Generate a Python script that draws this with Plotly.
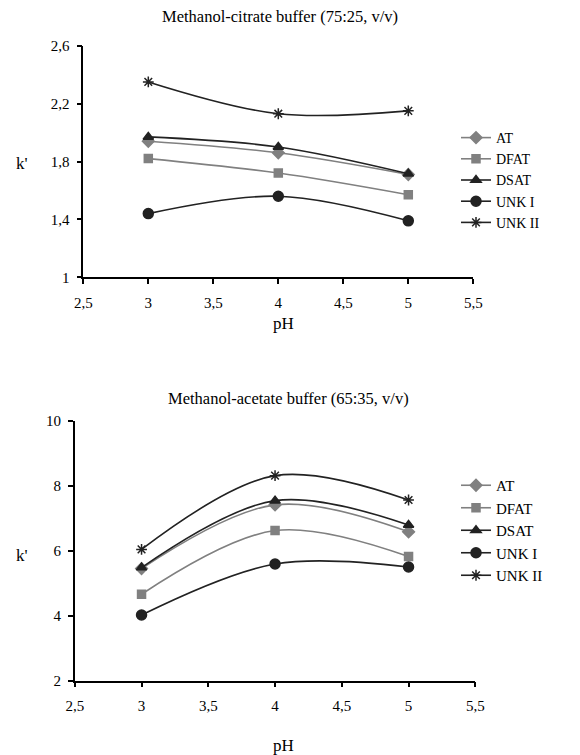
import plotly.graph_objects as go

ph = [3, 4, 5]
series_names = ["AT", "DFAT", "DSAT", "UNK I", "UNK II"]

# Methanol-citrate buffer (75:25, v/v)
citrate_at = [1.94, 1.86, 1.71]
citrate_dfat = [1.82, 1.72, 1.57]
citrate_dsat = [1.97, 1.90, 1.715]
citrate_unk1 = [1.44, 1.56, 1.39]
citrate_unk2 = [2.35, 2.13, 2.15]

# Methanol-acetate buffer (65:35, v/v)
acetate_at = [5.45, 7.41, 6.58]
acetate_dfat = [4.66, 6.62, 5.82]
acetate_dsat = [5.48, 7.54, 6.79]
acetate_unk1 = [4.02, 5.59, 5.50]
acetate_unk2 = [6.04, 8.31, 7.56]

title_top = "Methanol-citrate buffer (75:25, v/v)"
title_bottom = "Methanol-acetate buffer (65:35, v/v)"

GRAY = "#808080"
DARK = "#222222"
styles = [
    dict(color=GRAY, symbol="diamond", size=9),
    dict(color=GRAY, symbol="square", size=8),
    dict(color=DARK, symbol="triangle-up", size=9),
    dict(color=DARK, symbol="circle", size=10),
    dict(color=DARK, symbol="asterisk-open", size=9),
]

W, H = 580, 755
FONT = "Liberation Serif, Times New Roman, serif"

fig = go.Figure()

top_data = [citrate_at, citrate_dfat, citrate_dsat, citrate_unk1, citrate_unk2]
bot_data = [acetate_at, acetate_dfat, acetate_dsat, acetate_unk1, acetate_unk2]

for name, vals, st in zip(series_names, top_data, styles):
    fig.add_trace(go.Scatter(
        x=ph, y=vals, name=name, mode="lines+markers",
        line=dict(color=st["color"], width=1.6, shape="spline", smoothing=1),
        marker=dict(symbol=st["symbol"], size=st["size"], color=st["color"],
                    line=dict(color=st["color"], width=1.5)),
        xaxis="x", yaxis="y", legend="legend",
    ))
for name, vals, st in zip(series_names, bot_data, styles):
    fig.add_trace(go.Scatter(
        x=ph, y=vals, name=name, mode="lines+markers",
        line=dict(color=st["color"], width=1.6, shape="spline", smoothing=1),
        marker=dict(symbol=st["symbol"], size=st["size"], color=st["color"],
                    line=dict(color=st["color"], width=1.5)),
        xaxis="x2", yaxis="y2", legend="legend2",
    ))

def px_x(v):
    return v / W

def px_y(v):
    return 1 - v / H

axis_common = dict(
    showline=True, linecolor="black", linewidth=1.5,
    ticks="outside", ticklen=5, tickwidth=1.5, tickcolor="black",
    showgrid=False, zeroline=False, automargin=False,
    tickfont=dict(family=FONT, size=15, color="black"),
)

def ann(text, x, y, size=17):
    return dict(text=text, x=px_x(x), y=px_y(y), xref="paper", yref="paper",
                xanchor="center", yanchor="middle", showarrow=False,
                font=dict(family=FONT, size=size, color="black"))

fig.update_layout(
    template="none",
    width=W, height=H,
    margin=dict(l=0, r=0, t=0, b=0, autoexpand=False),
    paper_bgcolor="white", plot_bgcolor="white",
    separators=", ",
    font=dict(family=FONT, color="black"),
    xaxis=dict(domain=[px_x(83.3), px_x(473.3)], range=[2.5, 5.5], dtick=0.5, tick0=2.5,
               anchor="y", ticklabelstandoff=6, **axis_common),
    yaxis=dict(domain=[px_y(277.3), px_y(45.7)], range=[1, 2.6], dtick=0.4, tick0=1,
               anchor="x", ticklabelstandoff=4, **axis_common),
    xaxis2=dict(domain=[px_x(74.8), px_x(475.3)], range=[2.5, 5.5], dtick=0.5, tick0=2.5,
                anchor="y2", ticklabelstandoff=6, **axis_common),
    yaxis2=dict(domain=[px_y(680.7), px_y(420.7)], range=[2, 10], dtick=2, tick0=2,
                anchor="x2", ticklabelstandoff=4, **axis_common),
    legend=dict(x=px_x(456), y=px_y(122), xanchor="left", yanchor="top",
                font=dict(family=FONT, size=14, color="black"),
                bgcolor="rgba(0,0,0,0)", tracegroupgap=0),
    legend2=dict(x=px_x(456), y=px_y(469), xanchor="left", yanchor="top",
                 font=dict(family=FONT, size=15, color="black"),
                 bgcolor="rgba(0,0,0,0)", tracegroupgap=0),
    annotations=[
        ann(title_top, 280, 17, 16.5),
        ann(title_bottom, 288, 398, 16.5),
        ann("pH", 283, 323),
        ann("pH", 283, 745),
        ann("k'", 22, 163),
        ann("k'", 22, 555),
    ],
)

fig.write_html(
    "out.html",
    config={"displayModeBar": False},
    post_script="document.body.style.margin='0';document.body.style.padding='0';",
)
